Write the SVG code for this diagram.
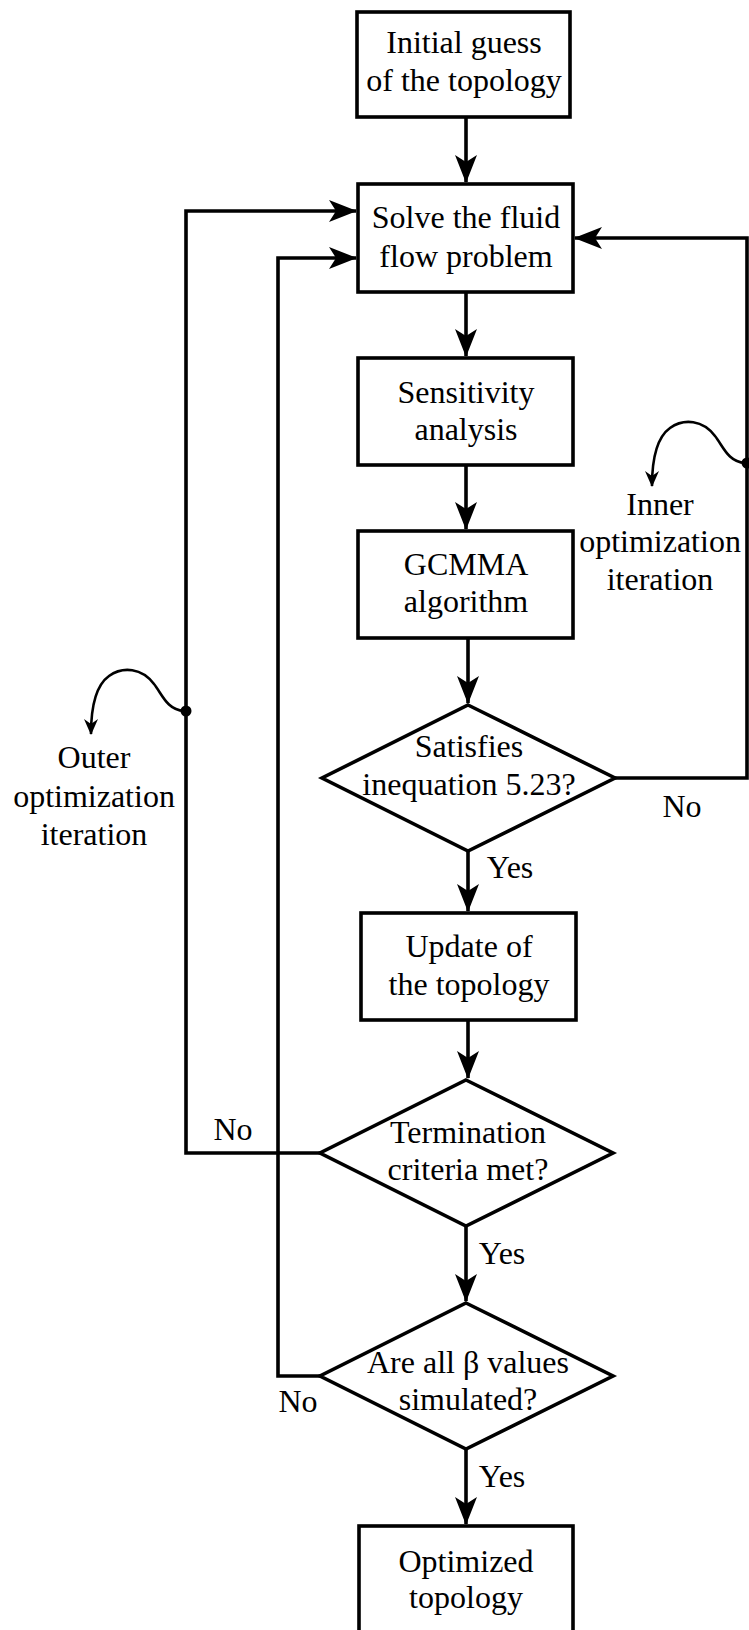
<svg xmlns="http://www.w3.org/2000/svg" width="749" height="1630" viewBox="0 0 749 1630">
<style>
.box{fill:#fff;stroke:#000;stroke-width:3.6}
.ln{fill:none;stroke:#000;stroke-width:3.6}
.cv{fill:none;stroke:#000;stroke-width:2.6}
text{font-family:'Liberation Serif','Times New Roman',Times,'DejaVu Serif',serif;font-size:32px;fill:#000;text-anchor:middle}
</style>
<defs>
<marker id="ah" viewBox="-30 -12 32 24" refX="0" refY="0" markerWidth="32" markerHeight="24" markerUnits="userSpaceOnUse" orient="auto">
<path d="M1,0 L-27,-11 L-20,0 L-27,11 Z" fill="#000"/>
</marker>
<marker id="sh" viewBox="-16 -8 18 16" refX="0" refY="0" markerWidth="18" markerHeight="16" markerUnits="userSpaceOnUse" orient="auto">
<path d="M1,0 L-15,-7 L-10,0 L-15,7 Z" fill="#000"/>
</marker>
</defs>
<rect width="749" height="1630" fill="#fff"/>
<g id="connectors">
<path class="ln" d="M466,117 V182" marker-end="url(#ah)"/>
<path class="ln" d="M466,292 V356" marker-end="url(#ah)"/>
<path class="ln" d="M466,465 V529" marker-end="url(#ah)"/>
<path class="ln" d="M468,638 V703" marker-end="url(#ah)"/>
<path class="ln" d="M468,851 V911" marker-end="url(#ah)"/>
<path class="ln" d="M468,1020 V1078" marker-end="url(#ah)"/>
<path class="ln" d="M466,1226 V1301" marker-end="url(#ah)"/>
<path class="ln" d="M466,1449 V1524" marker-end="url(#ah)"/>
<path class="ln" d="M615,778 H747 V238 H575" marker-end="url(#ah)"/>
<path class="ln" d="M320,1153 H186 V211 H356" marker-end="url(#ah)"/>
<path class="ln" d="M320,1376 H278 V258 H356" marker-end="url(#ah)"/>
<circle cx="747" cy="463" r="5.5" fill="#000"/>
<circle cx="186" cy="711" r="5.5" fill="#000"/>
<path class="cv" d="M745,463 C728,462 723,446 715,436 C703,420 684,418 670,428 C656,438 652,460 652,486" marker-end="url(#sh)"/>
<path class="cv" d="M184,711 C167,710 162,694 154,684 C142,668 123,666 109,676 C95,686 91,708 91,734" marker-end="url(#sh)"/>
<text x="510" y="878">Yes</text>
<text x="682" y="817">No</text>
<text x="233" y="1140">No</text>
<text x="502" y="1264">Yes</text>
<text x="298" y="1412">No</text>
<text x="502" y="1487">Yes</text>
<text x="660" y="515">Inner</text>
<text x="660" y="552">optimization</text>
<text x="660" y="590">iteration</text>
<text x="94" y="768">Outer</text>
<text x="94" y="807">optimization</text>
<text x="94" y="845">iteration</text>
</g>
<g id="n1"><rect class="box" x="357" y="12" width="213" height="105"/><text x="464" y="53">Initial guess</text><text x="464" y="91">of the topology</text></g>
<g id="n2"><rect class="box" x="358" y="184" width="215" height="108"/><text x="466" y="228">Solve the fluid</text><text x="466" y="267">flow problem</text></g>
<g id="n3"><rect class="box" x="358" y="358" width="215" height="107"/><text x="466" y="403">Sensitivity</text><text x="466" y="440">analysis</text></g>
<g id="n4"><rect class="box" x="358" y="531" width="215" height="107"/><text x="466" y="575">GCMMA</text><text x="466" y="612">algorithm</text></g>
<g id="d1"><path class="box" d="M468,705 L615,778 L468,851 L322,778 Z"/><text x="469" y="757">Satisfies</text><text x="469" y="795">inequation 5.23?</text></g>
<g id="n5"><rect class="box" x="361" y="913" width="215" height="107"/><text x="469" y="957">Update of</text><text x="469" y="995">the topology</text></g>
<g id="d2"><path class="box" d="M466,1080 L613,1153 L466,1226 L320,1153 Z"/><text x="468" y="1143">Termination</text><text x="468" y="1180">criteria met?</text></g>
<g id="d3"><path class="box" d="M466,1303 L613,1376 L466,1449 L320,1376 Z"/><text x="468" y="1373">Are all β values</text><text x="468" y="1410">simulated?</text></g>
<g id="n6"><rect class="box" x="359" y="1526" width="214" height="120"/><text x="466" y="1572">Optimized</text><text x="466" y="1608">topology</text></g>
</svg>
